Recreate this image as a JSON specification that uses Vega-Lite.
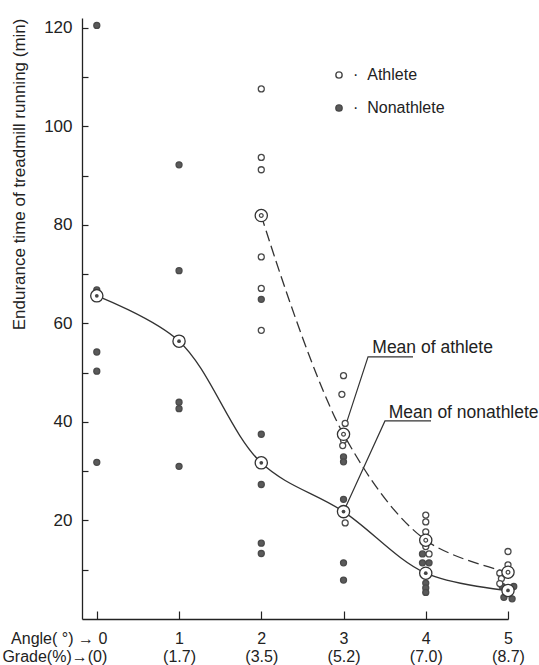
{
  "$schema": "https://vega.github.io/schema/vega-lite/v6.json",
  "width": 426,
  "height": 601,
  "autosize": {"type": "none"},
  "padding": {"left": 82, "top": 18, "right": 31, "bottom": 46},
  "background": "white",
  "config": {
    "view": {"stroke": null},
    "font": "Liberation Sans",
    "axis": {"labelFont": "Liberation Sans", "titleFont": "Liberation Sans", "domainColor": "#222", "tickColor": "#222", "labelColor": "#222", "titleColor": "#222", "grid": false, "domainWidth": 1.3, "tickWidth": 1.2}
  },
  "datasets": {
    "points": [
      {"angle": 0, "time": 120.5, "group": "Nonathlete"},
      {"angle": 0, "time": 66.8, "group": "Nonathlete"},
      {"angle": 0, "time": 54.2, "group": "Nonathlete"},
      {"angle": 0, "time": 50.3, "group": "Nonathlete"},
      {"angle": 0, "time": 31.8, "group": "Nonathlete"},
      {"angle": 1, "time": 92.2, "group": "Nonathlete"},
      {"angle": 1, "time": 70.7, "group": "Nonathlete"},
      {"angle": 1, "time": 44.0, "group": "Nonathlete"},
      {"angle": 1, "time": 42.7, "group": "Nonathlete"},
      {"angle": 1, "time": 31.0, "group": "Nonathlete"},
      {"angle": 2, "time": 64.9, "group": "Nonathlete"},
      {"angle": 2, "time": 37.5, "group": "Nonathlete"},
      {"angle": 2, "time": 27.3, "group": "Nonathlete"},
      {"angle": 2, "time": 15.4, "group": "Nonathlete"},
      {"angle": 2, "time": 13.3, "group": "Nonathlete"},
      {"angle": 3, "time": 32.9, "group": "Nonathlete"},
      {"angle": 3, "time": 31.9, "group": "Nonathlete"},
      {"angle": 3, "time": 24.3, "group": "Nonathlete"},
      {"angle": 3, "time": 11.4, "group": "Nonathlete"},
      {"angle": 3, "time": 7.9, "group": "Nonathlete"},
      {"angle": 3.96, "time": 13.2, "group": "Nonathlete"},
      {"angle": 3.96, "time": 11.4, "group": "Nonathlete"},
      {"angle": 4.04, "time": 11.4, "group": "Nonathlete"},
      {"angle": 4.0, "time": 7.3, "group": "Nonathlete"},
      {"angle": 4.0, "time": 6.3, "group": "Nonathlete"},
      {"angle": 4.0, "time": 5.4, "group": "Nonathlete"},
      {"angle": 4.93, "time": 6.6, "group": "Nonathlete"},
      {"angle": 5.07, "time": 6.6, "group": "Nonathlete"},
      {"angle": 4.95, "time": 4.4, "group": "Nonathlete"},
      {"angle": 5.05, "time": 4.1, "group": "Nonathlete"},
      {"angle": 2, "time": 107.6, "group": "Athlete"},
      {"angle": 2, "time": 93.7, "group": "Athlete"},
      {"angle": 2, "time": 91.2, "group": "Athlete"},
      {"angle": 2, "time": 73.5, "group": "Athlete"},
      {"angle": 2, "time": 67.1, "group": "Athlete"},
      {"angle": 2, "time": 58.6, "group": "Athlete"},
      {"angle": 3, "time": 49.4, "group": "Athlete"},
      {"angle": 2.98, "time": 45.6, "group": "Athlete"},
      {"angle": 3.02, "time": 39.7, "group": "Athlete"},
      {"angle": 3, "time": 36.3, "group": "Athlete"},
      {"angle": 2.99, "time": 35.2, "group": "Athlete"},
      {"angle": 3.02, "time": 19.5, "group": "Athlete"},
      {"angle": 4, "time": 21.1, "group": "Athlete"},
      {"angle": 4, "time": 19.7, "group": "Athlete"},
      {"angle": 4, "time": 17.7, "group": "Athlete"},
      {"angle": 4, "time": 14.7, "group": "Athlete"},
      {"angle": 4.04, "time": 13.2, "group": "Athlete"},
      {"angle": 5, "time": 13.7, "group": "Athlete"},
      {"angle": 5, "time": 11.0, "group": "Athlete"},
      {"angle": 4.9, "time": 9.3, "group": "Athlete"},
      {"angle": 4.92, "time": 8.2, "group": "Athlete"},
      {"angle": 4.9, "time": 7.2, "group": "Athlete"}
    ],
    "means": [
      {"angle": 0, "time": 65.6, "group": "Nonathlete"},
      {"angle": 1, "time": 56.4, "group": "Nonathlete"},
      {"angle": 2, "time": 31.7, "group": "Nonathlete"},
      {"angle": 3, "time": 21.8, "group": "Nonathlete"},
      {"angle": 4, "time": 9.3, "group": "Nonathlete"},
      {"angle": 5, "time": 5.8, "group": "Nonathlete"},
      {"angle": 2, "time": 81.9, "group": "Athlete"},
      {"angle": 3, "time": 37.5, "group": "Athlete"},
      {"angle": 4, "time": 16.0, "group": "Athlete"},
      {"angle": 5, "time": 9.5, "group": "Athlete"}
    ],
    "leaders": [
      {"id": "a", "ord": 1, "angle": 3.02, "time": 39.0},
      {"id": "a", "ord": 2, "angle": 3.298, "time": 53.2},
      {"id": "a", "ord": 3, "angle": 3.845, "time": 53.2},
      {"id": "n", "ord": 1, "angle": 3.03, "time": 22.9},
      {"id": "n", "ord": 2, "angle": 3.504, "time": 40.2},
      {"id": "n", "ord": 3, "angle": 4.064, "time": 40.2}
    ],
    "notes": [
      {"angle": 3.35, "time": 54.0, "text": "Mean of athlete"},
      {"angle": 3.55, "time": 40.9, "text": "Mean of nonathlete"}
    ]
  },
  "encoding": {
    "x": {
      "field": "angle",
      "type": "quantitative",
      "scale": {"domain": [-0.18, 5.0], "nice": false, "zero": false},
      "axis": {
        "values": [0, 1, 2, 3, 4, 5],
        "title": null,
        "tickSize": -8,
        "labelPadding": 19,
        "labelFontSize": 16,
        "labelLineHeight": 18,
        "labelBaseline": "top",
        "labelFlush": false,
        "labelOverlap": false,
        "labelAlign": {"condition": {"test": "datum.value == 0", "value": "right"}, "value": "center"},
        "labelOffset": {"condition": {"test": "datum.value == 0", "value": 10}, "value": 0},
        "labelExpr": "datum.value == 0 ? ['Angle( °) → 0\u00a0', 'Grade(%)→(0)'] : [datum.label, '(' + ['0', '1.7', '3.5', '5.2', '7.0', '8.7'][datum.value] + ')']"
      }
    },
    "y": {
      "field": "time",
      "type": "quantitative",
      "scale": {"domain": [0, 122], "nice": false},
      "axis": {
        "values": [10, 20, 30, 40, 50, 60, 70, 80, 90, 100, 110, 120],
        "labelExpr": "datum.value % 20 === 0 ? datum.label : ''",
        "tickSize": -6,
        "labelPadding": 16,
        "labelFontSize": 17,
        "title": "Endurance time of treadmill running (min)",
        "titleFontSize": 17,
        "titleFontWeight": "normal",
        "titleAnchor": "end",
        "titlePadding": 15
      }
    }
  },
  "layer": [
    {
      "data": {"name": "means"},
      "transform": [{"filter": "datum.group == 'Nonathlete'"}],
      "mark": {"type": "line", "interpolate": "catmull-rom", "stroke": "#333", "strokeWidth": 1.3}
    },
    {
      "data": {"name": "means"},
      "transform": [{"filter": "datum.group == 'Athlete'"}],
      "mark": {"type": "line", "interpolate": "catmull-rom", "stroke": "#333", "strokeWidth": 1.3, "strokeDash": [11, 5]}
    },
    {
      "data": {"name": "leaders"},
      "mark": {"type": "line", "stroke": "#333", "strokeWidth": 1.2},
      "encoding": {"detail": {"field": "id"}, "order": {"field": "ord", "type": "quantitative"}}
    },
    {
      "data": {"name": "points"},
      "mark": {"type": "point", "filled": true, "size": 36, "stroke": "#4a4a4a", "strokeWidth": 1.3, "opacity": 1},
      "encoding": {
        "fill": {
          "field": "group",
          "type": "nominal",
          "scale": {"domain": ["Athlete", "Nonathlete"], "range": ["white", "#5a5a5a"]},
          "legend": {
            "title": null,
            "orient": "none",
            "legendX": 249,
            "legendY": 49,
            "labelFontSize": 16,
            "labelColor": "#222",
            "labelOffset": 6,
            "rowPadding": 17,
            "symbolSize": 40,
            "symbolStrokeColor": "#4a4a4a",
            "symbolStrokeWidth": 1.4,
            "labelExpr": "'·\u00a0\u00a0' + datum.label"
          }
        }
      }
    },
    {
      "data": {"name": "means"},
      "mark": {"type": "point", "filled": true, "fill": "white", "size": 150, "stroke": "#333", "strokeWidth": 1.3, "opacity": 1}
    },
    {
      "data": {"name": "means"},
      "transform": [{"filter": "datum.group == 'Nonathlete'"}],
      "mark": {"type": "point", "filled": true, "fill": "#444", "size": 14, "opacity": 1}
    },
    {
      "data": {"name": "means"},
      "transform": [{"filter": "datum.group == 'Athlete'"}],
      "mark": {"type": "point", "filled": false, "stroke": "#444", "strokeWidth": 1.2, "size": 14, "opacity": 1}
    },
    {
      "data": {"name": "notes"},
      "mark": {"type": "text", "align": "left", "baseline": "alphabetic", "fontSize": 17.5, "font": "Liberation Sans", "fill": "#222"},
      "encoding": {"text": {"field": "text"}}
    }
  ]
}
